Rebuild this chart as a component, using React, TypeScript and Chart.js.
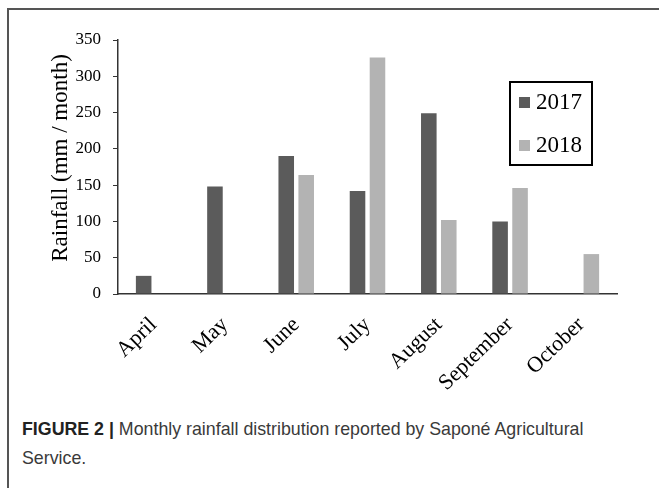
import React, { useEffect, useRef } from "react";
import { Chart, registerables } from "chart.js";

Chart.register(...registerables);

const months: string[] = ["April", "May", "June", "July", "August", "September", "October"];
const rain2017: (number | null)[] = [25, 148, 190, 142, 249, 100, null];
const rain2018: (number | null)[] = [null, null, 164, 326, 102, 146, 55];
const seriesNames: string[] = ["2017", "2018"];
const seriesColors: string[] = ["#5b5b5b", "#b3b3b3"];
const yMin = 0;
const yMax = 350;
const yStep = 50;
const yTitle = "Rainfall (mm / month)";
const captionBold = "FIGURE 2 |";
const captionText = " Monthly rainfall distribution reported by Saponé Agricultural Service.";

const SERIF = "'Liberation Serif', 'Times New Roman', serif";

const decorPlugin = {
  id: "decor",
  afterDraw(chart: any) {
    const ctx = chart.ctx as CanvasRenderingContext2D;
    // y-axis title
    ctx.save();
    ctx.translate(61, 158);
    ctx.rotate(-Math.PI / 2);
    ctx.font = `23px ${SERIF}`;
    ctx.fillStyle = "#000";
    ctx.textAlign = "center";
    ctx.textBaseline = "middle";
    ctx.fillText(yTitle, 0, 0);
    ctx.restore();

    // legend box
    ctx.save();
    const bx = 510, by = 82, bw = 82, bh = 83;
    ctx.strokeStyle = "#000";
    ctx.lineWidth = 2;
    ctx.strokeRect(bx, by, bw, bh);
    ctx.font = `23px ${SERIF}`;
    ctx.textBaseline = "middle";
    ctx.textAlign = "left";
    chart.data.datasets.forEach((ds: any, i: number) => {
      const cy = by + 20 + i * 43;
      ctx.fillStyle = ds.backgroundColor;
      ctx.fillRect(bx + 9, cy - 5, 11, 11);
      ctx.fillStyle = "#000";
      ctx.fillText(ds.label, bx + 26, cy + 1);
    });
    ctx.restore();
  },
};

export default function App() {
  const canvasRef = useRef<HTMLCanvasElement | null>(null);

  useEffect(() => {
    if (!canvasRef.current) return;
    const chart = new Chart(canvasRef.current, {
      type: "bar",
      data: {
        labels: months,
        datasets: [
          { label: seriesNames[0], data: rain2017, backgroundColor: seriesColors[0] },
          { label: seriesNames[1], data: rain2018, backgroundColor: seriesColors[1] },
        ],
      },
      options: {
        responsive: false,
        animation: false,
        devicePixelRatio: 1,
        layout: { padding: { left: 40, right: 42, top: 40, bottom: 0 } },
        datasets: {
          bar: { categoryPercentage: 0.56, barPercentage: 0.78 },
        },
        plugins: {
          legend: { display: false },
          tooltip: { enabled: false },
          title: { display: false },
        },
        scales: {
          x: {
            grid: { drawOnChartArea: false, drawTicks: false },
            border: { color: "#333", width: 1.5 },
            ticks: {
              minRotation: 44,
              maxRotation: 44,
              autoSkip: false,
              padding: 18,
              color: "#000",
              font: { family: SERIF, size: 22 },
            },
            afterFit: (s: any) => {
              s.height = 106;
            },
          },
          y: {
            min: yMin,
            max: yMax,
            grid: { drawOnChartArea: false, drawTicks: true, tickLength: 5, tickColor: "#333" },
            border: { color: "#333", width: 1.5 },
            ticks: {
              stepSize: yStep,
              padding: 12,
              color: "#000",
              font: { family: SERIF, size: 17 },
            },
            afterFit: (s: any) => {
              s.width = 78;
            },
          },
        },
      },
      plugins: [decorPlugin],
    });
    return () => chart.destroy();
  }, []);

  return (
    <div style={{ position: "absolute", left: 0, top: 0, width: 659, height: 488, overflow: "hidden", background: "#fff" }}>
      <div
        style={{
          position: "absolute",
          left: 7,
          top: 8,
          width: 700,
          height: 600,
          borderTop: "2px solid #555",
          borderLeft: "2px solid #555",
        }}
      />
      <canvas ref={canvasRef} width={659} height={400} style={{ position: "absolute", left: 0, top: 0 }} />
      <div
        style={{
          position: "absolute",
          left: 22,
          top: 415,
          width: 600,
          fontFamily: "'Liberation Sans', Arial, sans-serif",
          fontSize: 17.8,
          lineHeight: "29px",
          color: "#3a3a3a",
        }}
      >
        <span style={{ fontWeight: "bold", color: "#222" }}>{captionBold}</span>
        {captionText}
      </div>
    </div>
  );
}
